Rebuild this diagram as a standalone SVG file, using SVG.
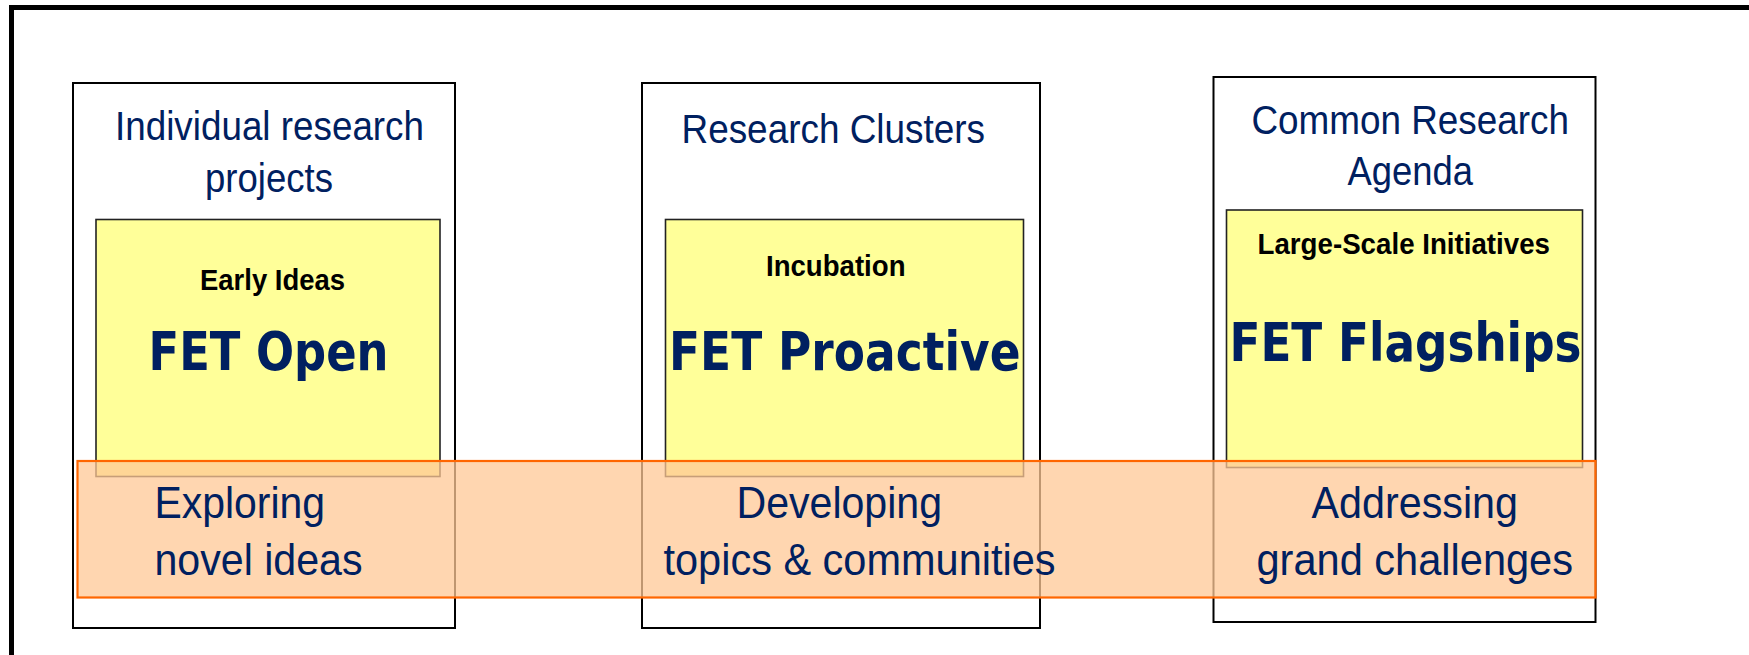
<svg xmlns="http://www.w3.org/2000/svg" width="1749" height="655" viewBox="0 0 1749 655">
<style>
.box{fill:#ffffff;stroke:#000000;stroke-width:2}
.ybox{fill:#ffff99;stroke:#222222;stroke-width:1.6}
.band{fill:#ffc896;fill-opacity:0.75;stroke:#ff6600;stroke-width:2.2}
.head{font-family:"Liberation Sans",Arial,sans-serif;font-size:41px;fill:#002060}
.sub{font-family:"Liberation Sans",Arial,sans-serif;font-size:30px;font-weight:bold;fill:#000000}
.fet{font-family:"DejaVu Sans",Verdana,sans-serif;font-size:54px;font-weight:bold;fill:#002060}
.low{font-family:"Liberation Sans",Arial,sans-serif;font-size:45px;fill:#002060}
</style>
<rect width="1749" height="655" fill="#ffffff"/>
<path d="M11.5,655 V7.5 H1749" fill="none" stroke="#000000" stroke-width="5"/>

<g id="node-individual">
<rect class="box" x="73" y="83" width="382" height="545"/>
<text class="head" x="115" y="139.5" textLength="309" lengthAdjust="spacingAndGlyphs">Individual research</text>
<text class="head" x="205" y="191.5" textLength="128" lengthAdjust="spacingAndGlyphs">projects</text>
<rect class="ybox" x="96" y="219.5" width="344" height="257"/>
<text class="sub" x="200" y="290" textLength="145" lengthAdjust="spacingAndGlyphs">Early Ideas</text>
<text class="fet" x="148.5" y="370" textLength="240" lengthAdjust="spacingAndGlyphs">FET Open</text>
</g>

<g id="node-clusters">
<rect class="box" x="642" y="83" width="398" height="545"/>
<text class="head" x="681.5" y="143" textLength="303.5" lengthAdjust="spacingAndGlyphs">Research Clusters</text>
<rect class="ybox" x="665.5" y="219.5" width="358" height="257"/>
<text class="sub" x="766" y="276" textLength="139.5" lengthAdjust="spacingAndGlyphs">Incubation</text>
<text class="fet" x="669" y="370" textLength="351.5" lengthAdjust="spacingAndGlyphs">FET Proactive</text>
</g>

<g id="node-agenda">
<rect class="box" x="1213.5" y="77" width="382" height="545"/>
<text class="head" x="1251.5" y="133.5" textLength="317.5" lengthAdjust="spacingAndGlyphs">Common Research</text>
<text class="head" x="1347.5" y="184.5" textLength="125.5" lengthAdjust="spacingAndGlyphs">Agenda</text>
<rect class="ybox" x="1226.5" y="210" width="356" height="257.5"/>
<text class="sub" x="1257.5" y="254" textLength="292.5" lengthAdjust="spacingAndGlyphs">Large-Scale Initiatives</text>
<text class="fet" x="1229.5" y="361" textLength="352" lengthAdjust="spacingAndGlyphs">FET Flagships</text>
</g>

<g id="node-band">
<rect class="band" x="77.5" y="461" width="1518" height="136.5"/>
<text class="low" x="154.5" y="517.5" textLength="170.5" lengthAdjust="spacingAndGlyphs">Exploring</text>
<text class="low" x="154.5" y="575" textLength="208" lengthAdjust="spacingAndGlyphs">novel ideas</text>
<text class="low" x="736.5" y="517.5" textLength="205.5" lengthAdjust="spacingAndGlyphs">Developing</text>
<text class="low" x="663.5" y="575" textLength="392" lengthAdjust="spacingAndGlyphs">topics &amp; communities</text>
<text class="low" x="1311.5" y="517.5" textLength="206.5" lengthAdjust="spacingAndGlyphs">Addressing</text>
<text class="low" x="1256.5" y="575" textLength="316.5" lengthAdjust="spacingAndGlyphs">grand challenges</text>
</g>

<g id="connectors"></g>
</svg>
